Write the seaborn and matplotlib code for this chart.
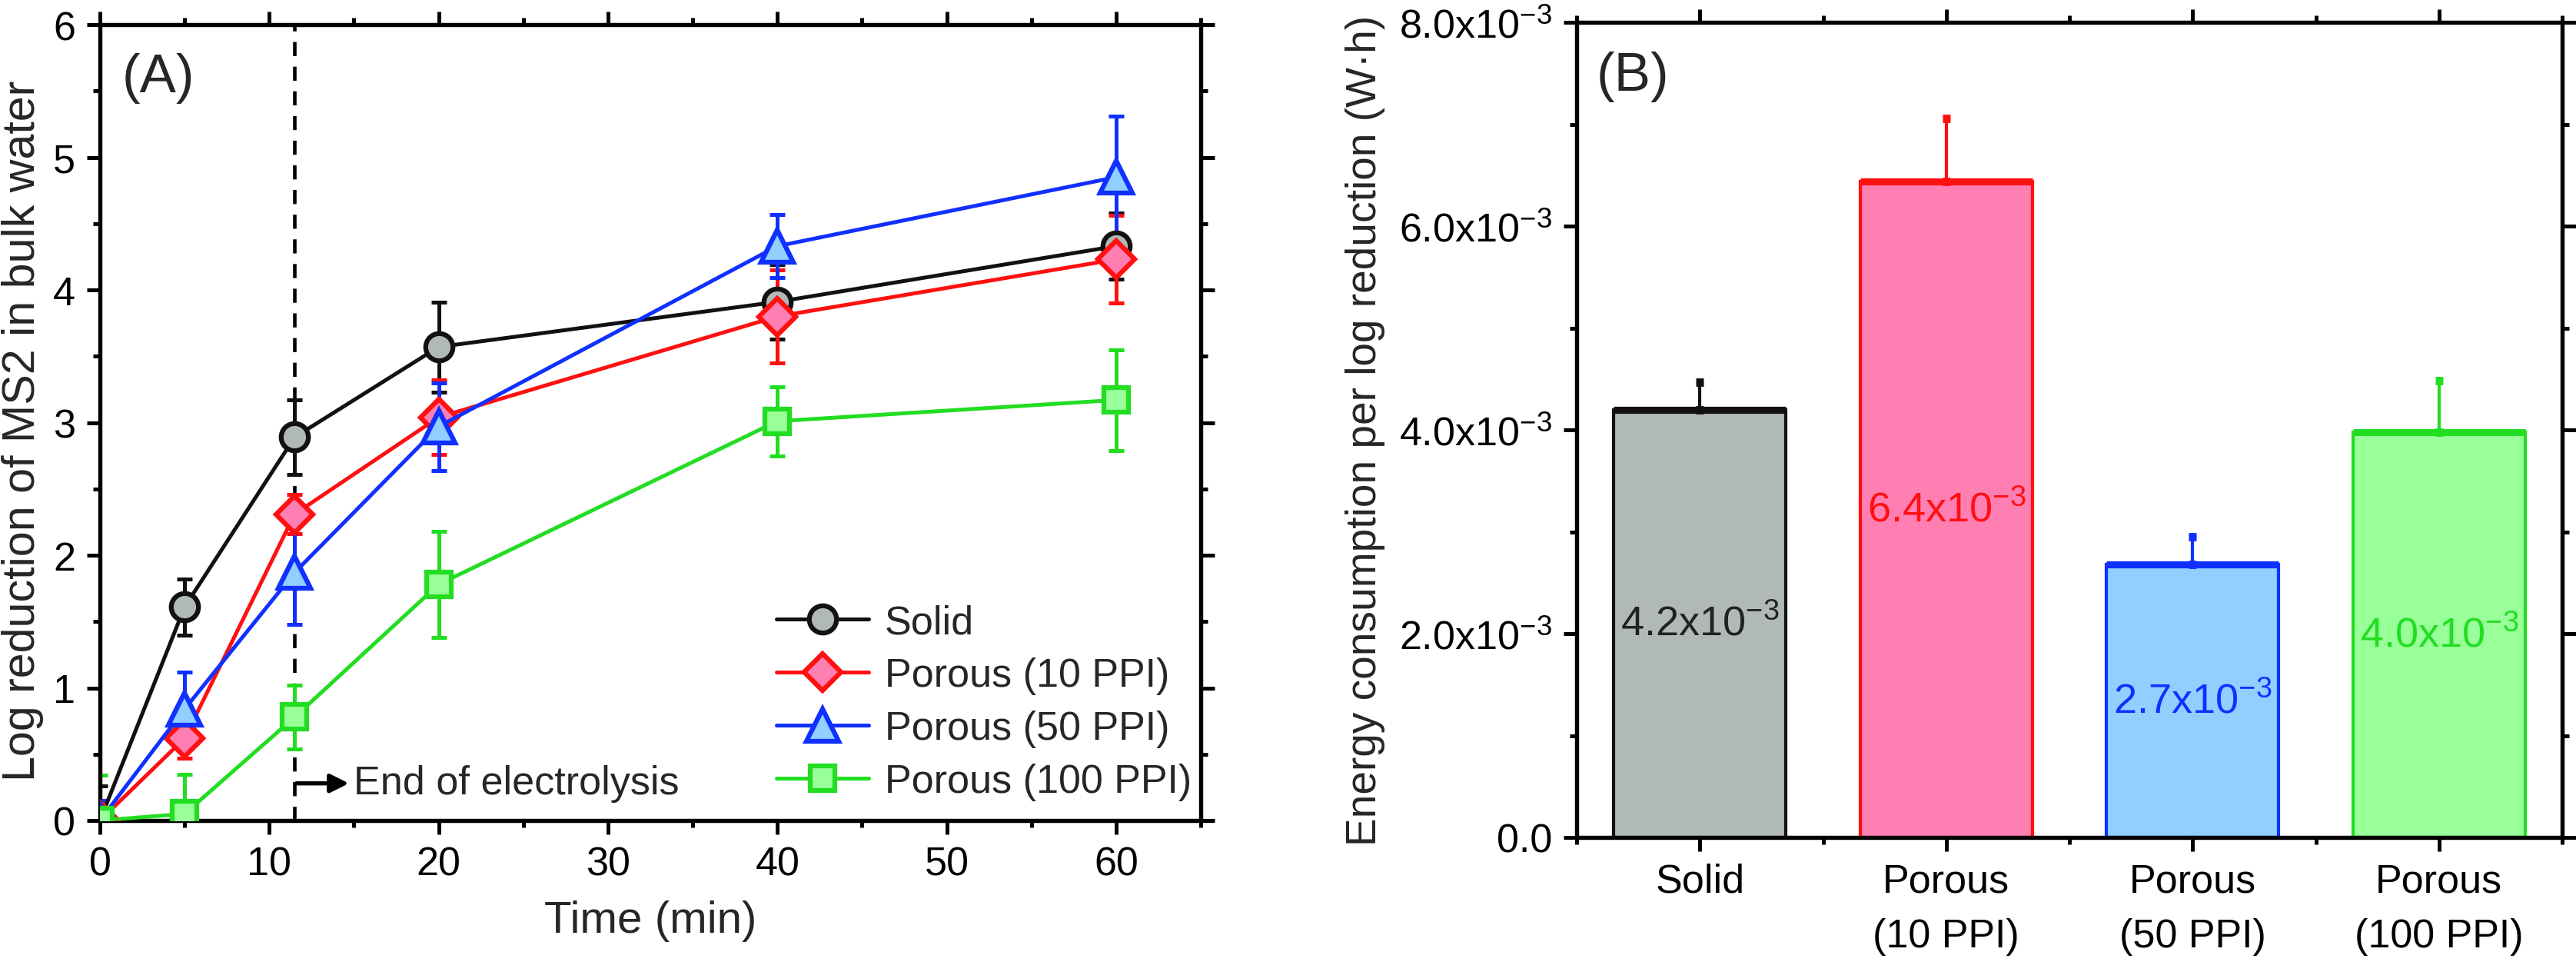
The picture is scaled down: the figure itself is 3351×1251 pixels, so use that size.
import matplotlib
matplotlib.use("Agg")
import matplotlib.pyplot as plt
import numpy as np
import pandas as pd
import seaborn as sns
from matplotlib.ticker import MultipleLocator, FuncFormatter


# Panel A: log reduction of MS2 over time
TIME = [0, 5, 11.5, 20, 40, 60]
SERIES = ["Solid", "Porous (10 PPI)", "Porous (50 PPI)", "Porous (100 PPI)"]
LOG_RED = {
    "Solid": [0.0, 1.61, 2.89, 3.57, 3.91, 4.33],
    "Porous (10 PPI)": [0.0, 0.62, 2.31, 3.04, 3.80, 4.23],
    "Porous (50 PPI)": [0.0, 0.84, 1.87, 2.97, 4.33, 4.85],
    "Porous (100 PPI)": [0.0, 0.05, 0.78, 1.78, 3.01, 3.17],
}
LOG_ERR = {
    "Solid": [0.26, 0.21, 0.28, 0.34, 0.28, 0.25],
    "Porous (10 PPI)": [0.10, 0.15, 0.15, 0.28, 0.35, 0.33],
    "Porous (50 PPI)": [0.15, 0.28, 0.39, 0.33, 0.24, 0.46],
    "Porous (100 PPI)": [0.34, 0.30, 0.24, 0.40, 0.26, 0.38],
}
END_OF_ELECTROLYSIS = 11.5

# Panel B: energy consumption per log reduction
GROUPS = ["Solid", "Porous\n(10 PPI)", "Porous\n(50 PPI)", "Porous\n(100 PPI)"]
ENERGY = [4.2e-3, 6.44e-3, 2.68e-3, 3.98e-3]
ENERGY_ERR = [0.27e-3, 0.62e-3, 0.27e-3, 0.50e-3]
ENERGY_TEXT = ["4.2", "6.4", "2.7", "4.0"]

LINE_COLORS = ["#111111", "#FF1010", "#1030FF", "#22DD22"]
FACE_COLORS = ["#B0B9B6", "#FF7FB2", "#90CFFF", "#99FF99"]
TEXT_COLORS = ["#222222", "#FF1010", "#1030FF", "#22DD22"]
MARKERS = ["o", "D", "^", "s"]
MARKER_SIZES = [8.5, 8.0, 10.0, 7.5]

FONT = ["Liberation Sans", "DejaVu Sans"]


def style_axes(ax):
    for side in ["left", "right", "top", "bottom"]:
        ax.spines[side].set_visible(True)
        ax.spines[side].set_linewidth(1.3)
        ax.spines[side].set_color("black")
    ax.tick_params(which="both", direction="out", top=True, right=True,
                   width=1.2, colors="black", labelsize=12.5)
    ax.tick_params(which="major", length=4.2, pad=3.5)
    ax.tick_params(which="minor", length=2.2)


def plot_panel_a(ax):
    rows = []
    for name in SERIES:
        for t, v, e in zip(TIME, LOG_RED[name], LOG_ERR[name]):
            rows.append({"time": t, "value": v, "err": e, "series": name})
    df = pd.DataFrame(rows)

    for i, name in enumerate(SERIES):
        sub = df[df["series"] == name]
        ax.errorbar(sub["time"], sub["value"], yerr=sub["err"], fmt="none",
                    ecolor=LINE_COLORS[i], elinewidth=1.2, capsize=2.4,
                    capthick=1.2, zorder=2)
    for i, name in enumerate(SERIES):
        sub = df[df["series"] == name]
        sns.lineplot(data=sub, x="time", y="value", ax=ax, color=LINE_COLORS[i],
                     marker=MARKERS[i], markersize=MARKER_SIZES[i],
                     markerfacecolor=FACE_COLORS[i], markeredgecolor=LINE_COLORS[i],
                     markeredgewidth=1.5, linewidth=1.2, errorbar=None,
                     label=name, legend=False, zorder=3)

    ax.axvline(END_OF_ELECTROLYSIS, color="black", linestyle=(0, (4, 3)),
               linewidth=1.1, zorder=1)
    ax.annotate("", xy=(14.7, 0.28), xytext=(END_OF_ELECTROLYSIS + 0.1, 0.28),
                arrowprops=dict(arrowstyle="-|>", color="black", lw=1.3,
                                mutation_scale=12, shrinkA=0, shrinkB=0))
    ax.text(15.0, 0.28, "End of electrolysis", va="center", ha="left",
            fontsize=12.5, family=FONT)

    ax.set_xlim(0, 65)
    ax.set_ylim(0, 6)
    ax.xaxis.set_major_locator(MultipleLocator(10))
    ax.xaxis.set_minor_locator(MultipleLocator(5))
    ax.yaxis.set_major_locator(MultipleLocator(1))
    ax.yaxis.set_minor_locator(MultipleLocator(0.5))
    ax.set_xticks([0, 10, 20, 30, 40, 50, 60])
    ax.set_xlabel("Time (min)", fontsize=14)
    ax.set_ylabel("Log reduction of MS2 in bulk water", fontsize=14.2)
    ax.xaxis.set_label_coords(0.5, -0.10)
    ax.yaxis.set_label_coords(-0.051, 0.49)
    style_axes(ax)
    ax.text(0.02, 0.965, "(A)", transform=ax.transAxes, fontsize=17,
            va="top", ha="left", family=FONT)

    handles, labels = ax.get_legend_handles_labels()
    ax.legend(handles, labels, loc="lower left", bbox_to_anchor=(0.6, 0.005),
              frameon=False, fontsize=12.5, handlelength=2.3, handletextpad=0.4,
              labelspacing=0.38, borderaxespad=0)


def plot_panel_b(ax):
    df = pd.DataFrame({"group": GROUPS, "energy": ENERGY, "err": ENERGY_ERR})
    sns.barplot(data=df, x="group", y="energy", hue="group", palette=FACE_COLORS,
                saturation=1, width=0.7, legend=False, ax=ax, errorbar=None,
                zorder=2)
    for patch, color in zip(ax.patches, LINE_COLORS):
        patch.set_edgecolor(color)
        patch.set_linewidth(1.0)
    xs = np.arange(len(GROUPS))
    for i in range(len(GROUPS)):
        ax.errorbar(xs[i], df["energy"][i], yerr=[[0], [df["err"][i]]], fmt="none",
                    ecolor=LINE_COLORS[i], elinewidth=1.0, capsize=1.3,
                    capthick=2.6, zorder=3)
        ax.plot([xs[i] - 0.35, xs[i] + 0.35], [df["energy"][i]] * 2,
                color=LINE_COLORS[i], linewidth=2.2, solid_capstyle="butt", zorder=3)
        # value label sits at half the bar height
        ax.text(xs[i], df["energy"][i] / 2, ENERGY_TEXT[i] + r"x10$^{-3}$",
                ha="center", va="center", color=TEXT_COLORS[i], fontsize=13)

    ax.set_xlim(-0.5, 3.5)
    ax.set_ylim(0, 8e-3)
    ax.yaxis.set_major_locator(MultipleLocator(2e-3))
    ax.yaxis.set_minor_locator(MultipleLocator(1e-3))
    ax.xaxis.set_minor_locator(MultipleLocator(0.5))
    ax.yaxis.set_major_formatter(FuncFormatter(
        lambda v, p: "0.0" if abs(v) < 1e-9 else f"{v * 1e3:.1f}x10$^{{-3}}$"))
    ax.set_xlabel("")
    ax.set_ylabel("Energy consumption per log reduction (W\u00b7h)", fontsize=13.2)
    ax.yaxis.set_label_coords(-0.194, 0.5)
    style_axes(ax)
    for lab in ax.get_xticklabels():
        lab.set_linespacing(1.6)
    ax.text(0.02, 0.965, "(B)", transform=ax.transAxes, fontsize=17,
            va="top", ha="left", family=FONT)


def main():
    sns.set_style("ticks")
    plt.rcParams["font.family"] = FONT
    plt.rcParams["mathtext.default"] = "regular"
    plt.rcParams["axes.unicode_minus"] = True

    fig = plt.figure(figsize=(3351 / 300, 1252 / 300), dpi=300)
    ax_a = fig.add_axes([130 / 3351, 1 - 1068 / 1252, 1432 / 3351, 1035 / 1252])
    ax_b = fig.add_axes([2051 / 3351, 1 - 1090 / 1252, 1282 / 3351, 1060 / 1252])

    plot_panel_a(ax_a)
    plot_panel_b(ax_b)

    fig.savefig("out.png", dpi=300, facecolor="white")
    plt.close(fig)


if __name__ == "__main__":
    main()
